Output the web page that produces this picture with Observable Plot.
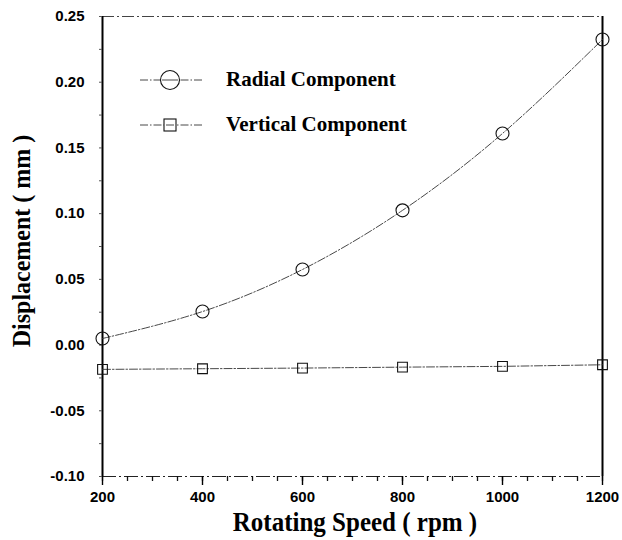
<!DOCTYPE html>
<html>
<head>
<meta charset="utf-8">
<script src="https://cdn.jsdelivr.net/npm/d3@7"></script>
<script src="https://cdn.jsdelivr.net/npm/@observablehq/plot@0.6"></script>
<style>
  html, body { margin: 0; padding: 0; background: #fff; }
  #chart svg { display: block; overflow: visible; }
</style>
</head>
<body>
<div id="chart"></div>
<script>
// Rotating speed (rpm)
const speeds = [200, 400, 600, 800, 1000, 1200];
// Displacement (mm) per component
const radial = [0.005, 0.0255, 0.0575, 0.1025, 0.161, 0.2325];
const vertical = [-0.0185, -0.018, -0.0175, -0.0168, -0.0162, -0.015];

const seriesNames = ["Radial Component", "Vertical Component"];
const xTicks = [200, 400, 600, 800, 1000, 1200];
const yTicks = [-0.10, -0.05, 0.00, 0.05, 0.10, 0.15, 0.20, 0.25];
const xMinor = d3.range(200, 1201, 50);
const yMinor = d3.range(-0.10, 0.2501, 0.025);
const xTitle = "Rotating Speed ( rpm )";
const yTitle = "Displacement ( mm )";

const radialData = speeds.map((s, i) => ({speed: s, value: radial[i]}));
const verticalData = speeds.map((s, i) => ({speed: s, value: vertical[i]}));

const W = 622, H = 540;
const M = {top: 16, right: 20, bottom: 64, left: 102};

const lineStyle = {stroke: "#333", strokeWidth: 0.9, strokeDasharray: "8,2,1.5,2"};
const serif = "'Liberation Serif', 'Times New Roman', serif";
const noLabel = () => "";

const chart = Plot.plot({
  width: W,
  height: H,
  marginTop: M.top,
  marginRight: M.right,
  marginBottom: M.bottom,
  marginLeft: M.left,
  style: {fontFamily: "'Liberation Sans', Arial, sans-serif", background: "#fff", overflow: "visible"},
  x: {domain: [200, 1200]},
  y: {domain: [-0.10, 0.25]},
  marks: [
    // frame: heavy left/right sides, dashed top/bottom
    Plot.ruleY([0.25], {stroke: "#444", strokeWidth: 1, strokeDasharray: "12,3,2,3"}),
    Plot.ruleY([-0.10], {stroke: "#222", strokeWidth: 1.2, strokeDasharray: "14,3,2,3"}),
    Plot.ruleX([200], {stroke: "#000", strokeWidth: 2}),
    Plot.ruleX([1200], {stroke: "#000", strokeWidth: 2}),
    // outward ticks: minor ones unlabeled
    Plot.axisX({ticks: xMinor, tickSize: 5, tickFormat: noLabel, stroke: "#111", strokeWidth: 1.3, label: null}),
    Plot.axisX({ticks: xTicks, tickSize: 9, tickPadding: 6, fontSize: 15, fontWeight: "bold", stroke: "#000",
      strokeWidth: 1.4, label: null, tickFormat: d => String(d)}),
    Plot.axisY({ticks: yMinor, tickSize: 3, tickFormat: noLabel, stroke: "#555", strokeWidth: 1, label: null}),
    Plot.axisY({ticks: yTicks, tickSize: 0, tickPadding: 18, fontSize: 15, fontWeight: "bold", label: null,
      tickFormat: d => d.toFixed(2)}),
    // series
    Plot.line(radialData, {x: "speed", y: "value", curve: "natural", ...lineStyle}),
    Plot.line(verticalData, {x: "speed", y: "value", ...lineStyle}),
    Plot.dot(radialData, {x: "speed", y: "value", r: 6.5, stroke: "#111", strokeWidth: 1.1, fill: "none"}),
    Plot.dot(verticalData, {x: "speed", y: "value", symbol: "square", r: 5.5, stroke: "#111", strokeWidth: 1.1, fill: "none"})
  ]
});

const svg = d3.select(chart);

// axis titles (slightly tall serif lettering)
svg.append("text")
  .attr("transform", "translate(355,531) scale(1,1.05)")
  .attr("text-anchor", "middle")
  .attr("font-family", serif).attr("font-weight", "bold").attr("font-size", 25).attr("fill", "#000")
  .text(xTitle);
svg.append("text")
  .attr("transform", "translate(30,241) rotate(-90) scale(1,1.08)")
  .attr("text-anchor", "middle")
  .attr("font-family", serif).attr("font-weight", "bold").attr("font-size", 24).attr("fill", "#000")
  .text(yTitle);

// legend inside the plot area
const lg = svg.append("g").attr("class", "legend");
const rows = [
  {name: seriesNames[0], y: 80, symbol: "circle"},
  {name: seriesNames[1], y: 125, symbol: "square"}
];
rows.forEach(r => {
  lg.append("line").attr("x1", 140).attr("x2", 202).attr("y1", r.y).attr("y2", r.y)
    .attr("stroke", "#333").attr("stroke-width", 0.9).attr("stroke-dasharray", "8,2,1.5,2");
  if (r.symbol === "circle") {
    lg.append("circle").attr("cx", 170).attr("cy", r.y).attr("r", 9.5)
      .attr("fill", "#fff").attr("stroke", "#111").attr("stroke-width", 1.1);
    lg.append("line").attr("x1", 162).attr("x2", 178).attr("y1", r.y).attr("y2", r.y)
      .attr("stroke", "#333").attr("stroke-width", 0.9);
  } else {
    lg.append("rect").attr("x", 164).attr("y", r.y - 6).attr("width", 12).attr("height", 12)
      .attr("fill", "#fff").attr("stroke", "#111").attr("stroke-width", 1.1);
    lg.append("line").attr("x1", 166).attr("x2", 174).attr("y1", r.y).attr("y2", r.y)
      .attr("stroke", "#333").attr("stroke-width", 0.9);
  }
  lg.append("text").attr("x", 226).attr("y", r.y + 6).text(r.name)
    .attr("text-anchor", "start")
    .attr("font-family", serif)
    .attr("font-weight", "bold").attr("font-size", 21).attr("fill", "#000");
});

document.getElementById("chart").appendChild(chart);
</script>
</body>
</html>
